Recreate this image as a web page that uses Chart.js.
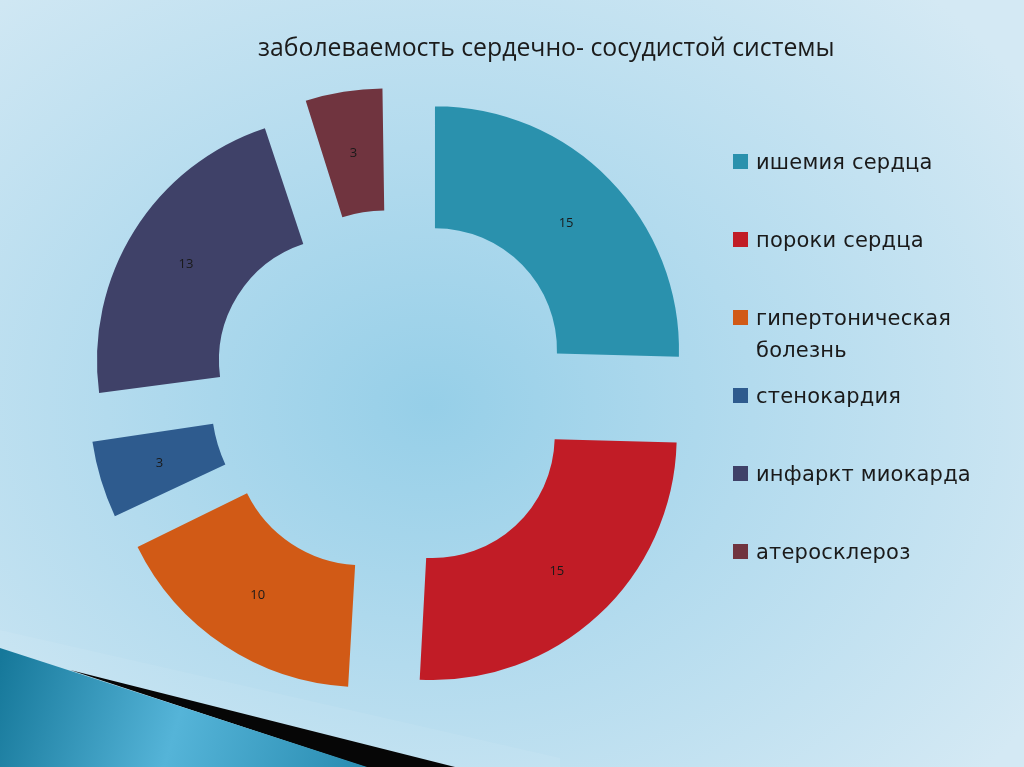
<!DOCTYPE html>
<html lang="ru">
<head>
<meta charset="UTF-8">
<title>заболеваемость сердечно- сосудистой системы</title>
<script src="https://cdn.jsdelivr.net/npm/chart.js@4.4.1/dist/chart.umd.min.js"></script>
<style>
  html, body { margin: 0; padding: 0; }
  body {
    width: 1024px; height: 767px; overflow: hidden; position: relative;
    background: radial-gradient(ellipse 70% 75% at 42% 53%, #96cfe8 0%, #b3dbee 45%, #d4e9f4 100%);
  }
  #chart { position: absolute; left: 0; top: 0; }
  .title {
    position: absolute; left: 258px; top: 29px; white-space: nowrap;
    font-family: "Open Sans", sans-serif; font-size: 24.8px; color: #1b1b1b;
  }
  .legend-item { position: absolute; left: 733px; }
  .legend-item .box { position: absolute; left: 0; top: 8px; width: 15px; height: 15px; }
  .legend-item .txt {
    position: absolute; left: 23px; top: 0; width: 240px;
    font-family: "DejaVu Sans", sans-serif; font-size: 21px; line-height: 32px;
    color: #1a1a1a; letter-spacing: 0.2px;
  }
</style>
</head>
<body>
<canvas id="chart" width="1024" height="767"></canvas>
<div class="title">заболеваемость сердечно- сосудистой системы</div>
<div id="legend"></div>
<script>
  const labels = ["ишемия сердца", "пороки сердца", "гипертоническая болезнь", "стенокардия", "инфаркт миокарда", "атеросклероз"];
  const values = [15, 15, 10, 3, 13, 3];
  const colors = ["#2a91ad", "#c11c26", "#d15a16", "#2e5b8e", "#3f4168", "#70343f"];

  const EXPLODE = 60; // how far each slice is pulled out, px

  // legend on the right
  const legend = document.getElementById("legend");
  labels.forEach((name, i) => {
    const item = document.createElement("div");
    item.className = "legend-item";
    item.style.top = (146 + i * 78) + "px";
    item.innerHTML = '<span class="box" style="background:' + colors[i] + '"></span><span class="txt">' + name + "</span>";
    legend.appendChild(item);
  });

  // decorative shapes in the bottom left corner
  const decor = {
    id: "decor",
    beforeDraw(chart) {
      const c = chart.ctx;
      c.save();
      c.fillStyle = "rgba(255,255,255,0.07)";
      c.beginPath();
      c.moveTo(0, 630); c.lineTo(560, 758); c.lineTo(560, 767); c.lineTo(0, 767);
      c.closePath(); c.fill();

      c.fillStyle = "#060606";
      c.beginPath();
      c.moveTo(70, 670); c.lineTo(455, 767); c.lineTo(365, 767);
      c.closePath(); c.fill();

      const g = c.createLinearGradient(0, 660, 360, 767);
      g.addColorStop(0, "#16789a");
      g.addColorStop(0.5, "#55b4d8");
      g.addColorStop(1, "#2a8db2");
      c.fillStyle = g;
      c.beginPath();
      c.moveTo(0, 648); c.lineTo(367, 767); c.lineTo(0, 767);
      c.closePath(); c.fill();
      c.restore();
    }
  };

  // value in the middle of each slice
  const sliceLabels = {
    id: "sliceLabels",
    afterDatasetsDraw(chart) {
      const c = chart.ctx;
      const meta = chart.getDatasetMeta(0);
      c.save();
      c.font = '13px "Open Sans"';
      c.fillStyle = "#1a1a1a";
      c.textAlign = "center";
      c.textBaseline = "middle";
      meta.data.forEach((arc, i) => {
        const p = arc.getProps(["x", "y", "startAngle", "endAngle", "innerRadius", "outerRadius"]);
        const a = (p.startAngle + p.endAngle) / 2;
        const r = EXPLODE + (p.innerRadius + p.outerRadius) / 2;
        c.fillText(String(values[i]), p.x + Math.cos(a) * r, p.y + Math.sin(a) * r + 1);
      });
      c.restore();
    }
  };

  const total = values.reduce((s, v) => s + v, 0);

  new Chart(document.getElementById("chart"), {
    type: "doughnut",
    data: {
      labels: labels,
      datasets: [{
        data: values,
        backgroundColor: colors,
        borderWidth: 0,
        hoverOffset: 0,
        // chart.js pushes narrow slices further out, so the offset is evened out here
        offset: (ctx) => {
          const circ = values[ctx.dataIndex] / total * 2 * Math.PI;
          const fix = 1 - Math.sin(Math.min(Math.PI, circ));
          return 4 * EXPLODE / (1 + fix);
        }
      }]
    },
    options: {
      responsive: false,
      animation: false,
      events: [],
      radius: 244,
      cutout: "50%",
      layout: { padding: { left: 0, right: 240, top: 17, bottom: 0 } },
      plugins: {
        legend: { display: false },
        tooltip: { enabled: false }
      }
    },
    plugins: [decor, sliceLabels]
  });
</script>
</body>
</html>
